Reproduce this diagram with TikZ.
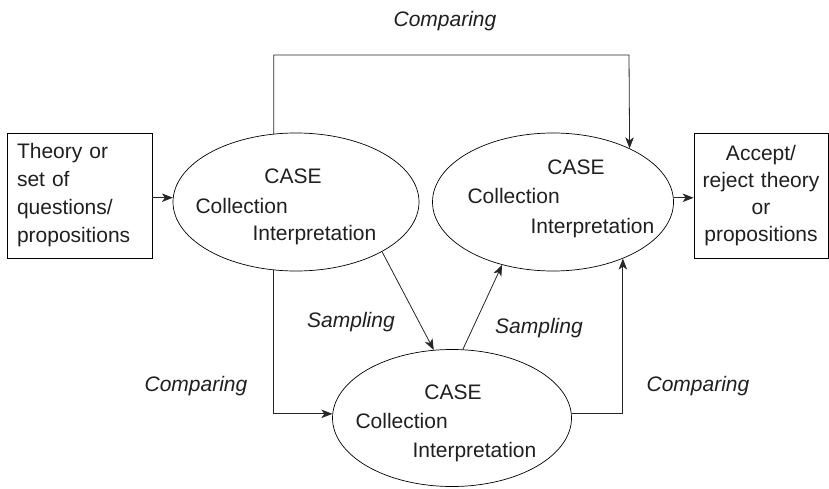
\documentclass[tikz,border=0pt]{standalone}
\usepackage{fontspec}
\setmainfont{Liberation Sans}
\usetikzlibrary{shapes.geometric,arrows.meta}
\begin{document}
\begin{tikzpicture}[x=1pt,y=1pt,
  every node/.style={font=\fontsize{21}{28}\selectfont, text=black!88},
  ell/.style={draw, ellipse, inner sep=0pt, line width=0.7pt},
  box/.style={draw, rectangle, inner ysep=0pt, line width=0.8pt, minimum height=125},
  arr/.style={line width=0.8pt, draw=black!85, -{Stealth[length=11pt,width=8.5pt,inset=3pt]}},
  lab/.style={font=\fontsize{21}{28}\selectfont\itshape, anchor=base}]
\useasboundingbox (0,0) rectangle (829,488);
% boxes
\node[box, text width=125, inner xsep=10, align=left] (lbox) at (79.5,292.5)
  {Theory or\\set of\\questions/\\propositions};
\node[box, text width=120, inner xsep=7, align=center,
  font=\fontsize{21}{27}\selectfont] (rbox) at (761,292.5)
  {Accept/\\reject theory\\or\\propositions};
% ellipses
\node[ell, minimum width=246, minimum height=138] (e1) at (296,286) {};
\node[ell, minimum width=241, minimum height=138] (e2) at (553,286) {};
\node[ell, minimum width=239, minimum height=137] (e3) at (452,70) {};
% ellipse texts
\node[anchor=base] (c1) at (293,305) {CASE};
\node[anchor=base west] (k1) at (192,275) {Collection};
\node[anchor=base west] (i1) at (249,248) {Interpretation};
\node[anchor=base] (c2) at (576,313) {CASE};
\node[anchor=base west] (k2) at (464,284) {Collection};
\node[anchor=base west] (i2) at (527,255) {Interpretation};
\node[anchor=base] (c3) at (453,89) {CASE};
\node[anchor=base west] (k3) at (352,60) {Collection};
\node[anchor=base west] (i3) at (409,31) {Interpretation};
% labels
\node[lab] (lt) at (445,461) {Comparing};
\node[lab] (ll) at (196,97) {Comparing};
\node[lab] (lr) at (698,97) {Comparing};
\node[lab] (s1) at (351,161) {Sampling};
\node[lab] (s2) at (539,155) {Sampling};
% connectors
\coordinate (ctop) at (629,433);
\draw[arr] (lbox.east |- e1.178) -- (e1.178);
\draw[arr] (e2.2) -- (rbox.west |- e2.2);
\draw[arr] (e1.108) |- (ctop) -- (e2.35);
\draw[arr] (e1.252) |- (e3.178);
\draw[arr] (e3.2) -| (e2.321);
\draw[arr] (e1.330) -- (e3.105);
\draw[arr] (e3.81) -- (e2.231);
\end{tikzpicture}
\end{document}
